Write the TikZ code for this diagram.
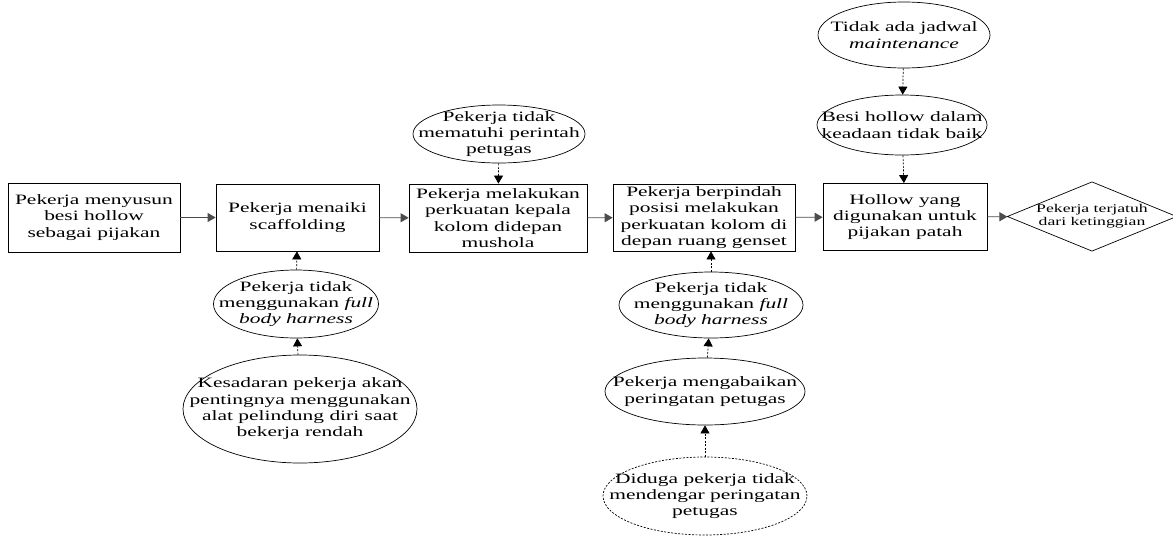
\documentclass[tikz,border=0pt]{standalone}
\usepackage{fontspec}
\usepackage{tikz}
\usetikzlibrary{shapes.geometric,arrows.meta}
\setmainfont[FakeStretch=1.5]{Liberation Serif}

\begin{document}
\fontsize{14.3}{16.3}\selectfont
\begin{tikzpicture}[x=1pt,y=1pt,
					box/.style ={shape=rectangle, draw, line width=0.8pt, align=center, inner sep=0pt},
					oval/.style ={shape=ellipse, draw, line width=0.7pt, inner sep=0pt},
					flow/.style ={draw=black!70, line width=0.8pt, -{Triangle[length=8pt,width=9pt]}},
					cause/.style ={draw, line width=0.7pt, dash pattern=on 2pt off 1.5pt, -{Triangle[length=8pt,width=9pt]}},
					every label/.style ={align=center, inner sep=0pt}]
	\useasboundingbox (0,0) rectangle (1173,-536);
	% main chain
	\node[box, minimum width=172pt, minimum height=69pt] (susun) at (94,-217.5)
		{Pekerja menyusun\\besi hollow\\sebagai pijakan};
	\node[box, minimum width=163pt, minimum height=67pt] (naik) at (297.5,-217.5)
		{Pekerja menaiki\\scaffolding};
	\node[box, minimum width=178pt, minimum height=68pt] (kepala) at (498,-218)
		{Pekerja melakukan\\perkuatan kepala\\kolom didepan\\mushola};
	\node[box, minimum width=182pt, minimum height=67pt] (pindah) at (704,-217.5)
		{Pekerja berpindah\\posisi melakukan\\perkuatan kolom di\\depan ruang genset};
	\node[box, minimum width=164pt, minimum height=67pt] (patah) at (905,-217)
		{Hollow yang\\digunakan untuk\\pijakan patah};
	\node[shape=diamond, draw, line width=0.7pt, aspect=2.44, inner sep=0pt, align=center,
		minimum width=161pt, minimum height=66pt, font=\fontsize{11.8}{13}\selectfont] (jatuh) at (1092,-216.5)
		{Pekerja terjatuh\\dari ketinggian};
	% causes
	\node[oval, minimum width=172pt, minimum height=58pt,
		label={center:Pekerja tidak\\mematuhi perintah\\petugas}] (patuh) at (499,-134) {};
	\node[oval, minimum width=172pt, minimum height=66pt,
		label={center:Tidak ada jadwal\\\textit{maintenance}}] (jadwal) at (904,-35) {};
	\node[oval, minimum width=170pt, minimum height=60pt,
		label={center:Besi hollow dalam\\keadaan tidak baik}] (besi) at (902,-125) {};
	\node[oval, minimum width=165pt, minimum height=68pt,
		label={center:Pekerja tidak\\menggunakan \textit{full}\\\textit{body harness}}] (harnessA) at (296,-304) {};
	\node[oval, minimum width=234pt, minimum height=108pt,
		label={center:Kesadaran pekerja akan\\pentingnya menggunakan\\alat pelindung diri saat\\bekerja rendah}] (sadar) at (300,-409) {};
	\node[oval, minimum width=184pt, minimum height=66pt,
		label={center:Pekerja tidak\\menggunakan \textit{full}\\\textit{body harness}}] (harnessB) at (711,-305) {};
	\node[oval, minimum width=200pt, minimum height=67pt,
		label={center:Pekerja mengabaikan\\peringatan petugas}] (abai) at (705,-391.5) {};
	\node[oval, dashed, dash pattern=on 2pt off 1.5pt, minimum width=204pt, minimum height=78pt,
		label={center:Diduga pekerja tidak\\mendengar peringatan\\petugas}] (dengar) at (705,-496) {};
	% connectors
	\draw[flow] (susun) -- (naik);
	\draw[flow] (naik) -- (kepala);
	\draw[flow] (kepala) -- (pindah);
	\draw[flow] (pindah) -- (patah);
	\draw[flow] (patah) -- (jatuh);
	\draw[cause] (patuh) -- (kepala);
	\draw[cause] (jadwal) -- (besi);
	\draw[cause] (besi) -- (patah);
	\draw[cause] (harnessA) -- (naik);
	\draw[cause] (sadar) -- (harnessA);
	\draw[cause] (harnessB.north) -- (harnessB.north |- pindah.south);
	\draw[cause] (abai) -- (harnessB);
	\draw[cause] (dengar) -- (abai);
\end{tikzpicture}
\end{document}
